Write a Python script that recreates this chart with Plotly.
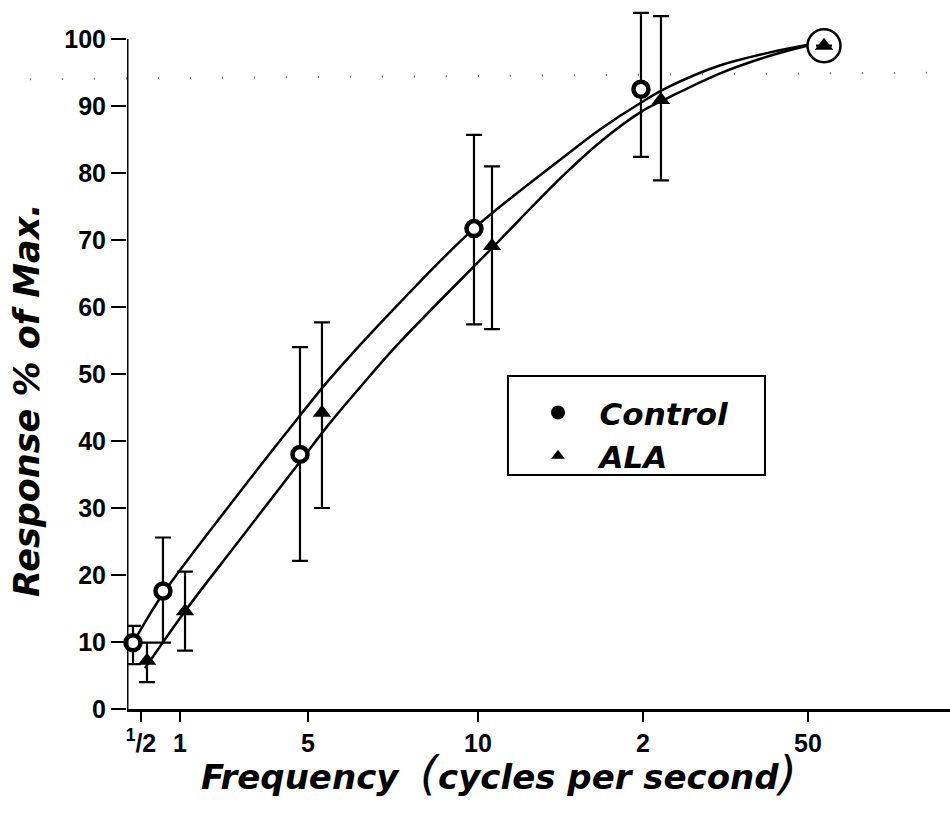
import plotly.graph_objects as go

# ---------------- data ----------------
freq_labels = ["<sup>1</sup>/2", "1", "5", "10", "2", "50"]
# positions of the frequency ticks on the hand-drawn (non-uniform) frequency scale
freq_pos = [1.7, 6.44, 22.0, 42.65, 62.7, 82.75]

# Control (circles): position on frequency scale, mean, upper & lower error limits
control_x = [0.73, 4.37, 21.02, 42.16, 62.45]
control_mean = [9.9, 17.6, 38.0, 71.7, 92.5]
control_upper = [12.4, 25.6, 54.0, 85.7, 103.9]
control_lower = [6.7, 9.9, 22.1, 57.4, 82.4]

# ALA (triangles)
ala_x = [2.43, 7.05, 23.69, 44.35, 64.88, 84.69]
ala_mean = [7.2, 14.6, 44.2, 69.1, 90.9, 99.0]
ala_upper = [9.9, 20.5, 57.7, 81.0, 103.4, 99.0]
ala_lower = [4.0, 8.7, 30.0, 56.7, 78.9, 99.0]

# common maximum point at 50 c/s (circled)
max_x = [84.69]
max_val = [99.0]

# fitted curves
control_curve_x = [1.22, 4.37, 12.52, 21.02, 24.67, 32.81, 42.16, 52.98, 57.47, 62.58, 65.74, 71.93, 78.13, 82.62]
control_curve_y = [10.9, 17.2, 30.5, 43.8, 49.3, 60.2, 71.7, 82.3, 86.5, 90.6, 92.8, 96.0, 98.0, 99.1]
ala_curve_x = [2.19, 7.05, 13.73, 21.02, 24.67, 28.31, 32.81, 44.11, 52.98, 57.47, 62.70, 65.74, 71.93, 78.13, 82.62]
ala_curve_y = [6.1, 14.6, 25.3, 36.9, 42.7, 48.0, 54.3, 68.5, 79.6, 84.6, 89.3, 91.2, 94.8, 97.5, 99.0]

y_ticks = [0, 10, 20, 30, 40, 50, 60, 70, 80, 90, 100]

# ---------------- figure ----------------
BLK = "black"
fig = go.Figure()

fig.add_trace(go.Scatter(x=control_curve_x, y=control_curve_y, mode="lines",
                         line=dict(color=BLK, width=2.5, shape="spline", smoothing=1.0),
                         showlegend=False, hoverinfo="skip"))
fig.add_trace(go.Scatter(x=ala_curve_x, y=ala_curve_y, mode="lines",
                         line=dict(color=BLK, width=2.5, shape="spline", smoothing=1.0),
                         showlegend=False, hoverinfo="skip"))

fig.add_trace(go.Scatter(
    x=control_x, y=control_mean, mode="markers", name="Control", showlegend=False,
    marker=dict(symbol="circle", size=15, color="white", line=dict(color=BLK, width=4.5)),
    error_y=dict(type="data", symmetric=False,
                 array=[u - m for u, m in zip(control_upper, control_mean)],
                 arrayminus=[m - l for m, l in zip(control_mean, control_lower)],
                 color=BLK, thickness=2.2, width=8),
    cliponaxis=False))

fig.add_trace(go.Scatter(
    x=ala_x, y=ala_mean, mode="markers", name="ALA", showlegend=False,
    marker=dict(symbol="triangle-up", size=16, color=BLK, line=dict(color=BLK, width=0)),
    error_y=dict(type="data", symmetric=False,
                 array=[u - m for u, m in zip(ala_upper, ala_mean)],
                 arrayminus=[m - l for m, l in zip(ala_mean, ala_lower)],
                 color=BLK, thickness=2.2, width=8),
    cliponaxis=False))

fig.add_trace(go.Scatter(
    x=max_x, y=max_val, mode="markers", showlegend=False,
    marker=dict(symbol="circle-open", size=33, color=BLK, line=dict(color=BLK, width=2.5)),
    cliponaxis=False, hoverinfo="skip"))

# legend entries (legend-only styling as in the key)
fig.add_trace(go.Scatter(x=[None], y=[None], mode="markers", name="&nbsp;&nbsp;Control",
                         marker=dict(symbol="circle", size=14, color=BLK,
                                     line=dict(color=BLK, width=1))))
fig.add_trace(go.Scatter(x=[None], y=[None], mode="markers", name="&nbsp;&nbsp;ALA",
                         marker=dict(symbol="triangle-up", size=12, color=BLK)))

# y axis line (only up to 100)
fig.add_shape(type="line", xref="x", yref="y", x0=0, x1=0, y0=0, y1=100,
              line=dict(color=BLK, width=3))
# faint dotted guide line
fig.add_shape(type="line", xref="paper", yref="y", x0=-0.118, x1=1.0, y0=94.0, y1=95.0,
              line=dict(color="#555", width=2, dash="1px,31px"))
# legend box
fig.add_shape(type="rect", xref="paper", yref="paper", x0=0.4629, x1=0.7752, y0=0.331, y1=0.471,
              line=dict(color=BLK, width=2), fillcolor="rgba(0,0,0,0)")

fig.add_annotation(xref="paper", yref="paper", x=-0.1215, y=0.437,
                   text="<b><i>Response&nbsp;%&nbsp;of&nbsp;Max.</i></b>", textangle=-90,
                   showarrow=False, xanchor="center", yanchor="middle",
                   font=dict(family="DejaVu Sans", size=35, color=BLK))
fig.add_annotation(xref="paper", yref="paper", x=0.452, y=-0.090,
                   text=("<b><i>Frequency</i></b>&nbsp;&nbsp;<i><span style='font-size:46px'>(</span></i>"
                         "<b><i>cycles&nbsp;per&nbsp;second</i></b>"
                         "<i><span style='font-size:46px'>)</span></i>"),
                   showarrow=False, xanchor="center", yanchor="middle",
                   font=dict(family="DejaVu Sans", size=34, color=BLK))

TICKFONT = dict(family="Liberation Sans", size=25, color=BLK, weight="bold")

fig.update_layout(
    width=950, height=831,
    margin=dict(l=127, r=0, t=2, b=122),
    paper_bgcolor="white", plot_bgcolor="white",
    font=dict(family="DejaVu Sans", color=BLK),
    legend=dict(x=0.4994, y=0.457, xanchor="left", yanchor="top",
                bgcolor="rgba(0,0,0,0)", borderwidth=0,
                font=dict(family="DejaVu Sans", size=31, color=BLK, weight="bold", style="italic"),
                itemsizing="constant", tracegroupgap=0),
    xaxis=dict(range=[0, 100], tickmode="array", tickvals=freq_pos, ticktext=freq_labels,
               showgrid=False, zeroline=False, showline=True, linecolor=BLK, linewidth=2.5,
               ticks="outside", ticklen=10, tickwidth=1.5, tickcolor=BLK,
               tickfont=TICKFONT),
    yaxis=dict(range=[0, 105.52], tickmode="array", tickvals=y_ticks,
               showgrid=False, zeroline=False, showline=False,
               ticks="outside", ticklen=15, tickwidth=1.5, tickcolor=BLK,
               tickfont=TICKFONT),
)

fig.write_html("out.html")
